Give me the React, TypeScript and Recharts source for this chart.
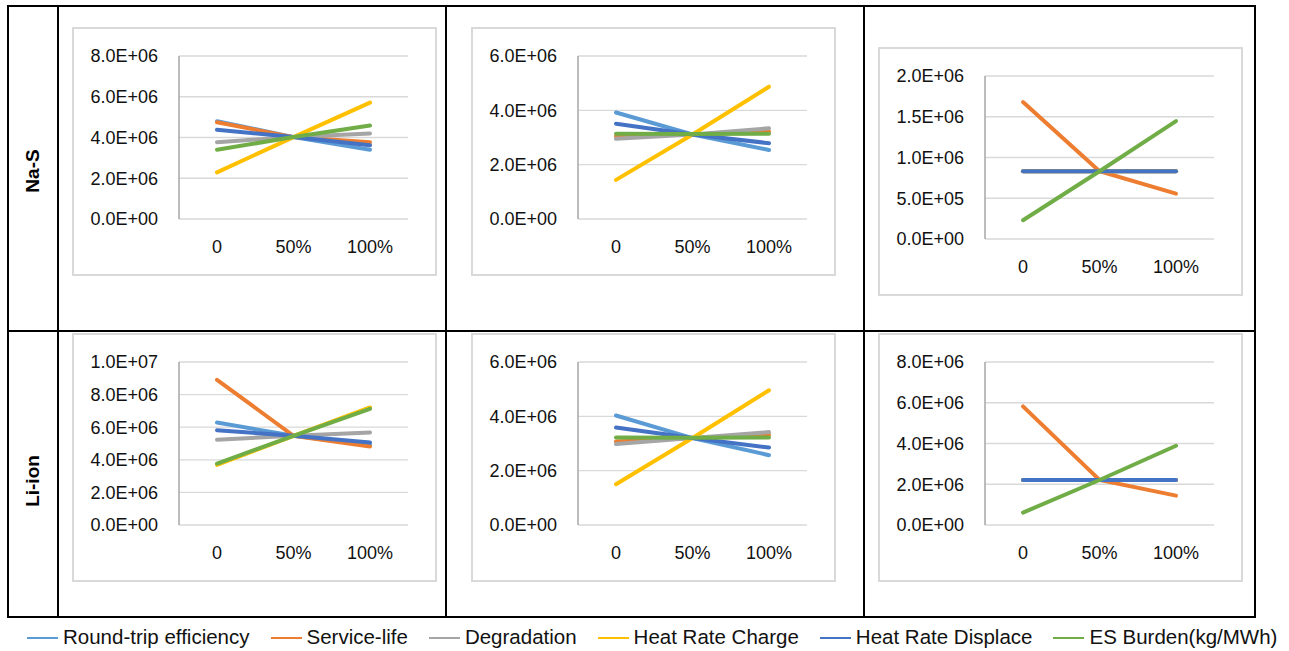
import React from 'react';
import { LineChart, Line, XAxis, YAxis, CartesianGrid } from 'recharts';

const categories = ['0', '50%', '100%'];
const seriesNames = [
  'Round-trip efficiency',
  'Service-life',
  'Degradation',
  'Heat Rate Charge',
  'Heat Rate Displace',
  'ES Burden(kg/MWh)',
];
const seriesColors = ['#5B9BD5', '#ED7D31', '#A5A5A5', '#FFC000', '#4472C4', '#70AD47'];
const rowLabels = ['Na-S', 'Li-ion'];

// rows follow seriesNames order; columns follow categories
const naS1 = [
  [4.8e6, 4.02e6, 3.4e6],
  [4.75e6, 4.02e6, 3.77e6],
  [3.77e6, 4.02e6, 4.2e6],
  [2.29e6, 4.02e6, 5.71e6],
  [4.38e6, 4.02e6, 3.62e6],
  [3.4e6, 4.02e6, 4.59e6],
];
const naS2 = [
  [3.92e6, 3.11e6, 2.54e6],
  [3.05e6, 3.11e6, 3.22e6],
  [2.95e6, 3.11e6, 3.34e6],
  [1.44e6, 3.11e6, 4.87e6],
  [3.51e6, 3.11e6, 2.79e6],
  [3.14e6, 3.13e6, 3.14e6],
];
const naS3 = [
  [0.832e6, 0.832e6, 0.832e6],
  [1.68e6, 0.832e6, 0.557e6],
  [0.832e6, 0.832e6, 0.832e6],
  [0.832e6, 0.832e6, 0.832e6],
  [0.832e6, 0.832e6, 0.832e6],
  [0.23e6, 0.832e6, 1.447e6],
];
const liIon1 = [
  [6.29e6, 5.47e6, 4.92e6],
  [8.91e6, 5.47e6, 4.82e6],
  [5.23e6, 5.47e6, 5.68e6],
  [3.69e6, 5.47e6, 7.21e6],
  [5.82e6, 5.47e6, 5.06e6],
  [3.77e6, 5.47e6, 7.13e6],
];
const liIon2 = [
  [4.03e6, 3.2e6, 2.57e6],
  [3.07e6, 3.2e6, 3.32e6],
  [2.98e6, 3.2e6, 3.42e6],
  [1.5e6, 3.2e6, 4.96e6],
  [3.59e6, 3.2e6, 2.85e6],
  [3.22e6, 3.21e6, 3.22e6],
];
const liIon3 = [
  [2.21e6, 2.21e6, 2.21e6],
  [5.82e6, 2.21e6, 1.44e6],
  [2.21e6, 2.21e6, 2.21e6],
  [2.21e6, 2.21e6, 2.21e6],
  [2.21e6, 2.21e6, 2.21e6],
  [0.61e6, 2.21e6, 3.89e6],
];

const ticks8 = [0, 2e6, 4e6, 6e6, 8e6];
const ticks6 = [0, 2e6, 4e6, 6e6];
const ticks2 = [0, 5e5, 1e6, 1.5e6, 2e6];
const ticks10 = [0, 2e6, 4e6, 6e6, 8e6, 1e7];

const FONT = '"Liberation Sans", Arial, sans-serif';
const TEXT = '#111';

const fmt = (v: number) => {
  const [m, e] = v.toExponential(1).split('e');
  const n = parseInt(e, 10);
  return `${m}E${n < 0 ? '-' : '+'}${String(Math.abs(n)).padStart(2, '0')}`;
};

function Panel({ values, ticks, left, top }: { values: number[][]; ticks: number[]; left: number; top: number }) {
  const data = categories.map((c, i) => {
    const row: Record<string, number | string> = { cat: c };
    values.forEach((s, k) => {
      row['s' + k] = s[i];
    });
    return row;
  });
  const W = 365;
  const H = 249;
  return (
    <div style={{ position: 'absolute', left, top, width: W, height: H, background: '#fff' }}>
      <div style={{ position: 'absolute', left: 0, top: 0 }}>
        <LineChart width={W} height={H} data={data} margin={{ top: 29, right: 29, left: 0, bottom: 0 }}>
          <CartesianGrid vertical={false} stroke="#D9D9D9" strokeWidth={1.3} />
          <XAxis
            dataKey="cat"
            height={57}
            tickSize={0}
            tickMargin={21}
            axisLine={false}
            tickLine={false}
            padding={{ left: 38, right: 38 }}
            tick={{ fontSize: 18, fill: TEXT, fontFamily: FONT }}
          />
          <YAxis
            width={107}
            domain={[0, ticks[ticks.length - 1]]}
            ticks={ticks}
            tickFormatter={fmt}
            tickSize={0}
            tickMargin={21}
            tickLine={false}
            axisLine={{ stroke: '#A6A6A6', strokeWidth: 1.5 }}
            tick={{ fontSize: 18, fill: TEXT, fontFamily: FONT }}
          />
          {seriesNames.map((n, k) => (
            <Line
              key={n}
              name={n}
              dataKey={'s' + k}
              stroke={seriesColors[k]}
              strokeWidth={4}
              strokeLinecap="round"
              dot={false}
              activeDot={false}
              isAnimationActive={false}
            />
          ))}
        </LineChart>
      </div>
      <div
        style={{
          position: 'absolute',
          left: 0,
          top: 0,
          width: W,
          height: H,
          border: '2px solid #D9D9D9',
          boxSizing: 'border-box',
          pointerEvents: 'none',
        }}
      />
    </div>
  );
}

const line = (style: React.CSSProperties) => (
  <div style={{ position: 'absolute', background: '#000', ...style }} />
);

export default function App() {
  return (
    <div
      style={{
        position: 'absolute',
        left: 0,
        top: 0,
        width: 1289,
        height: 651,
        background: '#fff',
        fontFamily: FONT,
        overflow: 'hidden',
      }}
    >
      <Panel values={naS1} ticks={ticks8} left={72} top={27} />
      <Panel values={naS2} ticks={ticks6} left={471} top={27} />
      <Panel values={naS3} ticks={ticks2} left={878} top={47} />
      <Panel values={liIon1} ticks={ticks10} left={72} top={333} />
      <Panel values={liIon2} ticks={ticks6} left={471} top={333} />
      <Panel values={liIon3} ticks={ticks8} left={878} top={333} />

      {/* table borders */}
      <div
        style={{
          position: 'absolute',
          left: 7,
          top: 5,
          width: 1249,
          height: 613,
          border: '2px solid #000',
          boxSizing: 'border-box',
        }}
      />
      {line({ left: 57, top: 5, width: 2, height: 613 })}
      {line({ left: 445, top: 5, width: 2, height: 613 })}
      {line({ left: 863, top: 5, width: 2, height: 613 })}
      {line({ left: 7, top: 330, width: 1249, height: 2 })}

      {/* row labels */}
      {rowLabels.map((r, i) => (
        <div
          key={r}
          style={{
            position: 'absolute',
            left: 33,
            top: i === 0 ? 171 : 481,
            transform: 'translate(-50%, -50%) rotate(-90deg)',
            fontWeight: 'bold',
            fontSize: 19,
            color: '#000',
            whiteSpace: 'nowrap',
            lineHeight: '22px',
          }}
        >
          {r}
        </div>
      ))}

      {/* legend */}
      <div
        style={{
          position: 'absolute',
          left: 27,
          top: 625,
          height: 24,
          display: 'flex',
          alignItems: 'center',
          whiteSpace: 'nowrap',
        }}
      >
        {seriesNames.map((n, k) => (
          <div key={n} style={{ display: 'flex', alignItems: 'center', marginRight: k < seriesNames.length - 1 ? 21 : 0 }}>
            <div style={{ width: 31, height: 2, background: seriesColors[k], marginRight: 5, marginTop: 2 }} />
            <span style={{ fontSize: 20.5, lineHeight: '24px', color: TEXT }}>{n}</span>
          </div>
        ))}
      </div>
    </div>
  );
}
